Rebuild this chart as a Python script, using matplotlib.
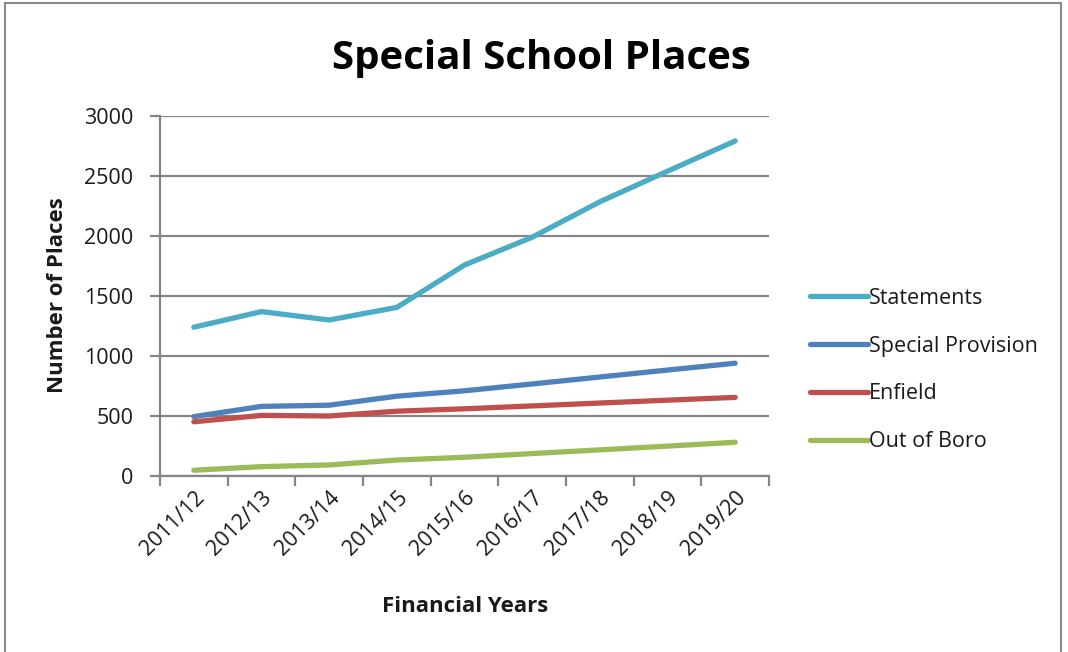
import matplotlib.pyplot as plt
import numpy as np
from matplotlib.patches import Rectangle

years = ["2011/12", "2012/13", "2013/14", "2014/15", "2015/16",
         "2016/17", "2017/18", "2018/19", "2019/20"]
statements = [1240, 1370, 1300, 1405, 1758, 1990, 2285, 2540, 2792]
special_provision = [495, 580, 590, 665, 710, 767, 825, 883, 940]
enfield = [452, 505, 500, 540, 560, 584, 608, 632, 655]
out_of_boro = [48, 78, 92, 133, 156, 187, 218, 249, 281]

series = [
    ("Statements", statements, "#4BACC6"),
    ("Special Provision", special_provision, "#4F81BD"),
    ("Enfield", enfield, "#C0504D"),
    ("Out of Boro", out_of_boro, "#9BBB59"),
]

plt.rcParams["font.family"] = ["Open Sans", "DejaVu Sans"]
GRID = "#868686"
TEXT = "#1a1a1a"

fig = plt.figure(figsize=(10.68, 6.52), dpi=100)
ax = fig.add_axes([160 / 1068, 1 - 476 / 652, 609 / 1068, 360 / 652])

x = np.arange(len(years))
for name, vals, color in series:
    ax.plot(x, vals, color=color, lw=3.8, solid_capstyle="round", label=name, zorder=3)

ax.set_xlim(-0.5, len(years) - 0.5)
ax.set_ylim(0, 3000)
ax.set_yticks(np.arange(0, 3001, 500))
ax.yaxis.grid(True, color=GRID, lw=1.6)
ax.set_axisbelow(True)

# category boundaries carry the tick marks, labels sit in the middle
ax.set_xticks(np.arange(-0.5, len(years)), minor=False)
ax.set_xticklabels([])
ax.set_xticks(x, minor=True)
ax.set_xticklabels(years, minor=True, rotation=45, ha="right",
                   rotation_mode="anchor", fontsize=15.5, color=TEXT)
ax.tick_params(axis="x", which="major", length=7, width=1.6, color=GRID, direction="out")
ax.tick_params(axis="x", which="minor", length=0, pad=8)
ax.tick_params(axis="y", length=7, width=1.6, color=GRID, labelsize=15.5,
               labelcolor=TEXT, pad=12)

for side in ("top", "right"):
    ax.spines[side].set_visible(False)
for side in ("left", "bottom"):
    ax.spines[side].set_color(GRID)
    ax.spines[side].set_linewidth(1.6)

fig.text(58 / 1068, 1 - 295 / 652, "Number of Places", fontsize=16,
         fontweight="bold", ha="center", va="center", rotation=90, color=TEXT)
fig.text(465 / 1068, 1 - 606 / 652, "Financial Years", fontsize=16,
         fontweight="bold", ha="center", va="center", color=TEXT)
fig.text(541 / 1068, 1 - 59 / 652, "Special School Places", fontsize=29,
         fontweight="bold", ha="center", va="center", color="black")

fig.legend(loc="center left", bbox_to_anchor=(801 / 1068, 1 - 370 / 652),
           frameon=False, fontsize=15.5, handlelength=2.7, handletextpad=0.05,
           labelspacing=1.25, borderaxespad=0, labelcolor=TEXT)

fig.patches.append(Rectangle((5 / 1068, -0.02), 1056 / 1068, 1 - 3 / 652 + 0.02,
                             transform=fig.transFigure, fill=False,
                             edgecolor="#8a8a8a", lw=1.5))

fig.savefig("out.png", dpi=100)
